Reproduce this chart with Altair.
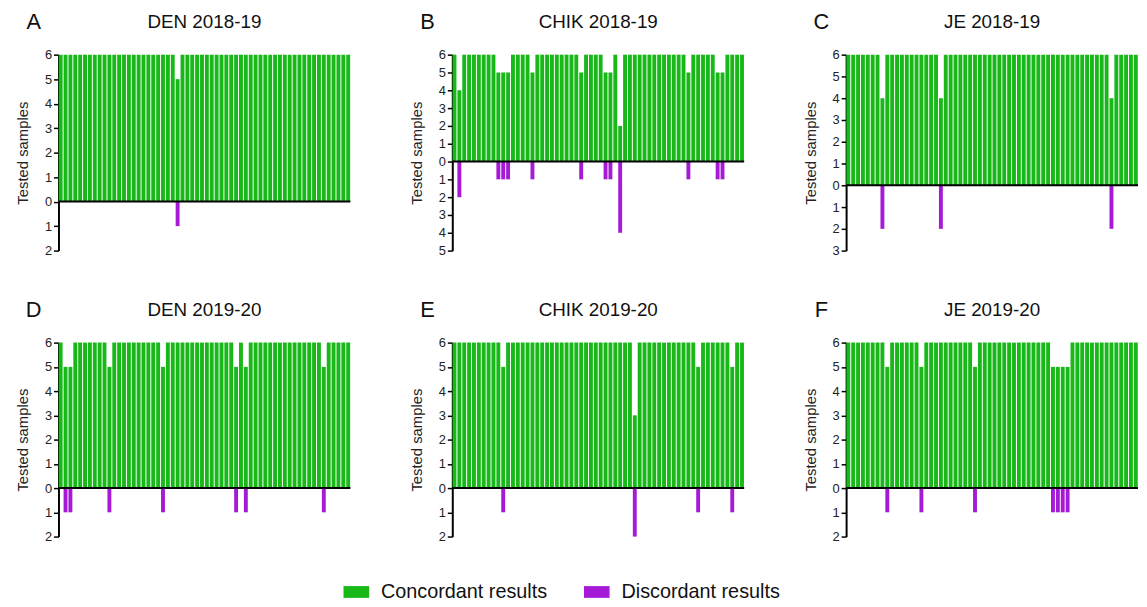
import altair as alt
import pandas as pd

GREEN = "#17b817"
PURPLE = "#a51ad6"

# Panel A: DEN 2018-19
den1819_conc = [6, 6, 6, 6, 6, 6, 6, 6, 6, 6, 6, 6, 6, 6, 6, 6, 6, 6, 6, 6,
                6, 6, 6, 6, 5, 6, 6, 6, 6, 6, 6, 6, 6, 6, 6, 6, 6, 6, 6, 6,
                6, 6, 6, 6, 6, 6, 6, 6, 6, 6, 6, 6, 6, 6, 6, 6, 6, 6, 6, 6]
den1819_disc = [0, 0, 0, 0, 0, 0, 0, 0, 0, 0, 0, 0, 0, 0, 0, 0, 0, 0, 0, 0,
                0, 0, 0, 0, 1, 0, 0, 0, 0, 0, 0, 0, 0, 0, 0, 0, 0, 0, 0, 0,
                0, 0, 0, 0, 0, 0, 0, 0, 0, 0, 0, 0, 0, 0, 0, 0, 0, 0, 0, 0]

# Panel B: CHIK 2018-19
chik1819_conc = [6, 4, 6, 6, 6, 6, 6, 6, 6, 5, 5, 5, 6, 6, 6, 6, 5, 6, 6, 6,
                 6, 6, 6, 6, 6, 6, 5, 6, 6, 6, 6, 5, 5, 6, 2, 6, 6, 6, 6, 6,
                 6, 6, 6, 6, 6, 6, 6, 6, 5, 6, 6, 6, 6, 6, 5, 5, 6, 6, 6, 6]
chik1819_disc = [0, 2, 0, 0, 0, 0, 0, 0, 0, 1, 1, 1, 0, 0, 0, 0, 1, 0, 0, 0,
                 0, 0, 0, 0, 0, 0, 1, 0, 0, 0, 0, 1, 1, 0, 4, 0, 0, 0, 0, 0,
                 0, 0, 0, 0, 0, 0, 0, 0, 1, 0, 0, 0, 0, 0, 1, 1, 0, 0, 0, 0]

# Panel C: JE 2018-19
je1819_conc = [6, 6, 6, 6, 6, 6, 6, 4, 6, 6, 6, 6, 6, 6, 6, 6, 6, 6, 6, 4,
               6, 6, 6, 6, 6, 6, 6, 6, 6, 6, 6, 6, 6, 6, 6, 6, 6, 6, 6, 6,
               6, 6, 6, 6, 6, 6, 6, 6, 6, 6, 6, 6, 6, 6, 4, 6, 6, 6, 6, 6]
je1819_disc = [0, 0, 0, 0, 0, 0, 0, 2, 0, 0, 0, 0, 0, 0, 0, 0, 0, 0, 0, 2,
               0, 0, 0, 0, 0, 0, 0, 0, 0, 0, 0, 0, 0, 0, 0, 0, 0, 0, 0, 0,
               0, 0, 0, 0, 0, 0, 0, 0, 0, 0, 0, 0, 0, 0, 2, 0, 0, 0, 0, 0]

# Panel D: DEN 2019-20
den1920_conc = [6, 5, 5, 6, 6, 6, 6, 6, 6, 6, 5, 6, 6, 6, 6, 6, 6, 6, 6, 6,
                6, 5, 6, 6, 6, 6, 6, 6, 6, 6, 6, 6, 6, 6, 6, 6, 5, 6, 5, 6,
                6, 6, 6, 6, 6, 6, 6, 6, 6, 6, 6, 6, 6, 6, 5, 6, 6, 6, 6, 6]
den1920_disc = [0, 1, 1, 0, 0, 0, 0, 0, 0, 0, 1, 0, 0, 0, 0, 0, 0, 0, 0, 0,
                0, 1, 0, 0, 0, 0, 0, 0, 0, 0, 0, 0, 0, 0, 0, 0, 1, 0, 1, 0,
                0, 0, 0, 0, 0, 0, 0, 0, 0, 0, 0, 0, 0, 0, 1, 0, 0, 0, 0, 0]

# Panel E: CHIK 2019-20
chik1920_conc = [6, 6, 6, 6, 6, 6, 6, 6, 6, 6, 5, 6, 6, 6, 6, 6, 6, 6, 6, 6,
                 6, 6, 6, 6, 6, 6, 6, 6, 6, 6, 6, 6, 6, 6, 6, 6, 6, 3, 6, 6,
                 6, 6, 6, 6, 6, 6, 6, 6, 6, 6, 5, 6, 6, 6, 6, 6, 6, 5, 6, 6]
chik1920_disc = [0, 0, 0, 0, 0, 0, 0, 0, 0, 0, 1, 0, 0, 0, 0, 0, 0, 0, 0, 0,
                 0, 0, 0, 0, 0, 0, 0, 0, 0, 0, 0, 0, 0, 0, 0, 0, 0, 2, 0, 0,
                 0, 0, 0, 0, 0, 0, 0, 0, 0, 0, 1, 0, 0, 0, 0, 0, 0, 1, 0, 0]

# Panel F: JE 2019-20
je1920_conc = [6, 6, 6, 6, 6, 6, 6, 6, 5, 6, 6, 6, 6, 6, 6, 5, 6, 6, 6, 6,
               6, 6, 6, 6, 6, 6, 5, 6, 6, 6, 6, 6, 6, 6, 6, 6, 6, 6, 6, 6,
               6, 6, 5, 5, 5, 5, 6, 6, 6, 6, 6, 6, 6, 6, 6, 6, 6, 6, 6, 6]
je1920_disc = [0, 0, 0, 0, 0, 0, 0, 0, 1, 0, 0, 0, 0, 0, 0, 1, 0, 0, 0, 0,
               0, 0, 0, 0, 0, 0, 1, 0, 0, 0, 0, 0, 0, 0, 0, 0, 0, 0, 0, 0,
               0, 0, 1, 1, 1, 1, 0, 0, 0, 0, 0, 0, 0, 0, 0, 0, 0, 0, 0, 0]

letters = ["A", "B", "C", "D", "E", "F"]
titles = ["DEN 2018-19", "CHIK 2018-19", "JE 2018-19",
          "DEN 2019-20", "CHIK 2019-20", "JE 2019-20"]
ymins = [-2, -5, -3, -2, -2, -2]
heights = [198, 198, 198, 196, 196, 196]
conc_all = [den1819_conc, chik1819_conc, je1819_conc,
            den1920_conc, chik1920_conc, je1920_conc]
disc_all = [den1819_disc, chik1819_disc, je1819_disc,
            den1920_disc, chik1920_disc, je1920_disc]

result_domain = ["Concordant results", "Discordant results"]
PW = 295
FONT = "Liberation Sans"

legend = alt.Legend(
    title=None, orient="none", legendX=291, legendY=533, direction="horizontal",
    symbolType="M-1.85,-0.85H1.85V0.85H-1.85Z", symbolSize=196, symbolStrokeWidth=0,
    symbolOpacity=1, labelFontSize=20, labelFont=FONT, labelColor="#111",
    labelOffset=15, columnPadding=37, padding=0, labelLimit=400,
)


def panel(k):
    rows = []
    for i, (c, d) in enumerate(zip(conc_all[k], disc_all[k])):
        rows.append({"sample": i + 1, "result": result_domain[0], "n": c})
        if d:
            rows.append({"sample": i + 1, "result": result_domain[1], "n": -d})
    df = pd.DataFrame(rows)
    ymin = ymins[k]
    yaxis = alt.Axis(values=list(range(ymin, 7)), labelExpr="'' + abs(datum.value)",
                     title="Tested samples", grid=False, labelOverlap=False,
                     labelFlush=False)
    yscale = alt.Scale(domain=[ymin, 6], nice=False)
    bars = alt.Chart(df).mark_bar().encode(
        x=alt.X("sample:O", axis=None,
                scale=alt.Scale(paddingInner=0.2, paddingOuter=0.05)),
        y=alt.Y("n:Q", stack=None, scale=yscale, axis=yaxis),
        color=alt.Color("result:N",
                        scale=alt.Scale(domain=result_domain, range=[GREEN, PURPLE]),
                        legend=legend),
    )
    zero = alt.Chart(pd.DataFrame({"n": [0]})).mark_rule(
        color="black", strokeWidth=2).encode(
        y=alt.Y("n:Q", scale=yscale, axis=yaxis))
    label = pd.DataFrame({"t": [letters[k]], "title": [titles[k]]})
    letter = alt.Chart(label).mark_text(
        fontSize=22, font=FONT, color="#111", align="center",
        baseline="middle").encode(text="t:N", x=alt.value(-25), y=alt.value(-33))
    title = alt.Chart(label).mark_text(
        fontSize=19, font=FONT, color="#111", align="center",
        baseline="middle").encode(text="title:N", x=alt.value(PW / 2), y=alt.value(-33))
    return alt.layer(bars, zero, letter, title).properties(
        width=PW, height=heights[k])


row1 = alt.hconcat(panel(0), panel(1), panel(2), spacing=58)
row2 = alt.hconcat(panel(3), panel(4), panel(5), spacing=58)

chart = alt.vconcat(row1, row2, spacing=42).resolve_scale(
    color="shared"
).properties(
    padding={"left": 7, "top": 0, "right": 0, "bottom": 0}
).configure_axis(
    domainColor="black", domainWidth=2, tickColor="black", tickWidth=1.5,
    tickSize=5, labelFontSize=13, labelColor="#222", titleFontSize=15,
    titleFontWeight="normal", titleColor="#222", labelFont=FONT,
    titleFont=FONT, titlePadding=14, labelPadding=2,
).configure_view(stroke=None)

chart.save("out.html", embed_options={"renderer": "svg", "actions": False})
